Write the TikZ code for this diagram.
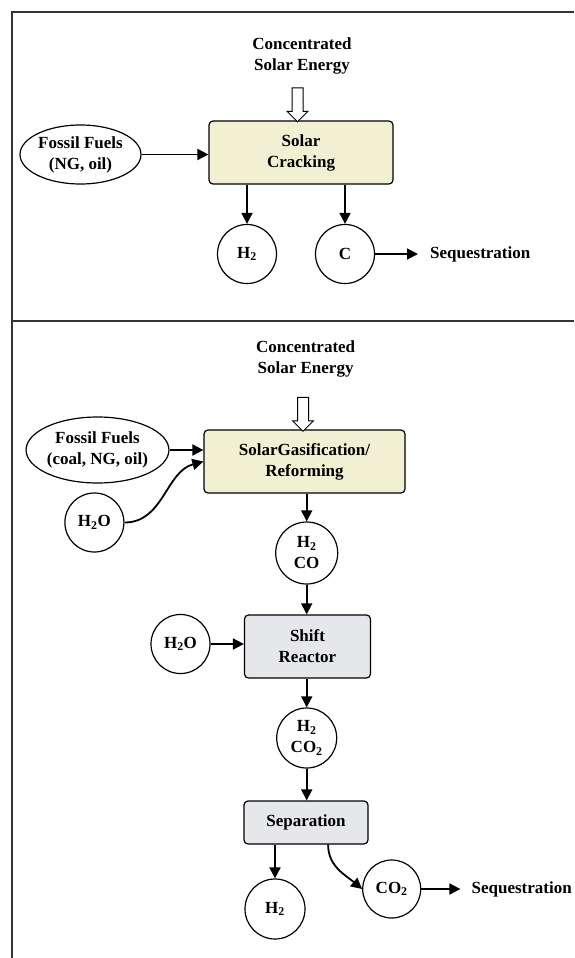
\documentclass[tikz,border=0pt]{standalone}
\usepackage{fontspec}
\setmainfont{Liberation Serif}
\usepackage{tikz}
\usetikzlibrary{arrows.meta,shapes.geometric,shapes.arrows}
\definecolor{solarfill}{HTML}{F2F0D2}
\definecolor{plantfill}{HTML}{E6E7EB}
\tikzset{
  % one unit is one pixel of the figure, y runs downwards
  lbl/.style     = {font=\bfseries\fontsize{17}{21}\selectfont, align=center,
                    inner sep=0pt},
  reactor/.style = {lbl, draw, line width=1.2pt, rounded corners=4pt,
                    fill=solarfill},
  unitop/.style  = {reactor, fill=plantfill},
  species/.style = {lbl, circle, draw, line width=1.2pt, minimum size=59},
  feed/.style    = {lbl, ellipse, draw, line width=1.2pt},
  flow/.style    = {line width=1.8pt, -{Triangle[length=11pt, width=11pt]}},
  sunbeam/.style = {single arrow, draw, line width=1pt, fill=white,
                    rotate=-90, minimum height=34, minimum width=20,
                    single arrow head extend=5pt, inner xsep=0pt,
                    inner ysep=5pt},
  panel/.style   = {line width=1.5pt, black!80},
}

\begin{document}
\begin{tikzpicture}[x=1pt, y=-1pt]
    \useasboundingbox (0,0) rectangle (574,958);
    \draw[panel] (12,958) -- (12,12) -- (574,12);
    \draw[panel] (12,321) -- (574,321);

    % solar cracking
    \node[lbl] (sunA) at (302,56) {Concentrated\\Solar Energy};
    \node[reactor, minimum width=184, minimum height=63] (crack)
        at (301,152.5) {Solar\\Cracking};
    \node[sunbeam] (beamA) at (297.5,102) {};
    \node[feed, minimum width=121, minimum height=59] (fuelA)
        at (80.5,154.5) {Fossil Fuels\\(NG, oil)};
    \node[species] (htwoA) at (247,254) {H\textsubscript{2}};
    \node[species] (carbon) at (345,254) {C};
    \node[lbl, anchor=west] (seqA) at (430,254) {Sequestration};

    \draw[flow] (fuelA.east) -- (fuelA.east -| crack.west);
    \draw[flow] (htwoA.north |- crack.south) -- (htwoA.north);
    \draw[flow] (carbon.north |- crack.south) -- (carbon.north);
    \draw[flow, shorten >=12pt] (carbon.east) -- (seqA.west);

    % solar gasification / reforming
    \node[lbl] (sunB) at (305.6,358.5) {Concentrated\\Solar Energy};
    \node[reactor, minimum width=201, minimum height=63] (gasify)
        at (304.5,461.5) {SolarGasification/\\Reforming};
    \node[sunbeam] (beamB) at (303,411.5) {};
    \node[feed, minimum width=138, minimum height=66] (fuelB)
        at (97.5,450) {Fossil Fuels\\(coal, NG, oil)};
    \node[species] (waterA) at (94.4,522.5) {H\textsubscript{2}O};
    \node[species, minimum size=62] (syngas) at (306.7,553)
        {H\textsubscript{2}\\CO};
    \node[unitop, minimum width=126, minimum height=63] (shift)
        at (307.5,646.5) {Shift\\Reactor};
    \node[species] (waterB) at (180.5,644) {H\textsubscript{2}O};
    \node[species, minimum size=60] (shifted) at (306.7,738)
        {H\textsubscript{2}\\CO\textsubscript{2}};
    \node[unitop, minimum width=124, minimum height=43] (separate)
        at (306,822.5) {Separation};
    \node[species, minimum size=60] (htwoB) at (275,909) {H\textsubscript{2}};
    \node[species, minimum size=58] (cotwo) at (391.7,889) {CO\textsubscript{2}};
    \node[lbl, anchor=west] (seqB) at (471.4,889) {Sequestration};

    \draw[flow] (fuelB.east) -- (fuelB.east -| gasify.west);
    \draw[flow] (waterA.east) to[out=0, in=195] (gasify.west);
    \draw[flow] (syngas.north |- gasify.south) -- (syngas.north);
    \draw[flow] (syngas.south) -- (syngas.south |- shift.north);
    \draw[flow] (waterB.east) -- (waterB.east -| shift.west);
    \draw[flow] (shifted.north |- shift.south) -- (shifted.north);
    \draw[flow] (shifted.south) -- (shifted.south |- separate.north);
    \draw[flow] (htwoB.north |- separate.south) -- (htwoB.north);
    \draw[flow] (separate.-45) to[out=-90, in=140] (cotwo.west);
    \draw[flow, shorten >=11pt] (cotwo.east) -- (seqB.west);
\end{tikzpicture}
\end{document}
